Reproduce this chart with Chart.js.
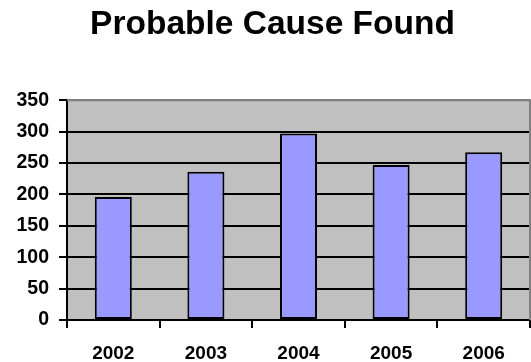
<!DOCTYPE html>
<html>
<head>
<meta charset="utf-8">
<script src="https://cdn.jsdelivr.net/npm/chart.js@4/dist/chart.umd.min.js"></script>
<style>
  html, body { margin: 0; padding: 0; background: #ffffff; }
  #wrap { width: 531px; height: 362px; position: relative; }
</style>
</head>
<body>
<div id="wrap"><canvas id="c" width="531" height="362"></canvas></div>
<script>
// Cases per year
const years = ['2002', '2003', '2004', '2005', '2006'];
const found = [196, 236, 297, 247, 267];
const yTicks = [0, 50, 100, 150, 200, 250, 300, 350];

const FONT = "'Liberation Sans', Arial, Helvetica, sans-serif";

// Grey plot background with a grey frame on top and right
const plotFrame = {
  id: 'plotFrame',
  beforeDraw(chart) {
    const { ctx, chartArea: a } = chart;
    ctx.save();
    ctx.fillStyle = '#C0C0C0';
    ctx.fillRect(a.left, a.top, a.right - a.left, a.bottom - a.top);
    ctx.restore();
  },
  afterDatasetsDraw(chart) {
    const { ctx, chartArea: a } = chart;
    ctx.save();
    ctx.strokeStyle = '#808080';
    ctx.lineWidth = 2;
    ctx.beginPath();
    ctx.moveTo(a.left, a.top);
    ctx.lineTo(a.right, a.top);
    ctx.lineTo(a.right, a.bottom);
    ctx.stroke();
    ctx.restore();
  }
};

new Chart(document.getElementById('c'), {
  type: 'bar',
  data: {
    labels: years,
    datasets: [{
      label: 'Probable Cause Found',
      data: found,
      backgroundColor: '#9999FF',
      borderColor: '#000000',
      borderWidth: 2,
      borderSkipped: false,
      categoryPercentage: 1.0,
      barPercentage: 0.4
    }]
  },
  options: {
    responsive: false,
    animation: false,
    devicePixelRatio: 1,
    layout: { padding: { left: 15, right: 1, top: 0, bottom: 0 } },
    plugins: {
      legend: { display: false },
      tooltip: { enabled: false },
      title: {
        display: true,
        text: 'Probable Cause Found',
        color: '#000000',
        font: { family: FONT, size: 33.5, weight: 'bold', lineHeight: 1.2 },
        padding: { top: 5, bottom: 55 }
      }
    },
    scales: {
      x: {
        offset: true,
        grid: {
          offset: true,
          drawOnChartArea: false,
          drawTicks: true,
          tickLength: 8,
          color: '#000000',
          tickColor: '#000000',
          lineWidth: 2
        },
        border: { display: true, color: '#000000', width: 2 },
        ticks: {
          color: '#000000',
          padding: 14,
          font: { family: FONT, size: 19, weight: 'bold', lineHeight: 1.2 }
        },
        afterFit(scale) { scale.height = 42; }
      },
      y: {
        min: 0,
        max: 350,
        afterBuildTicks(scale) {
          scale.ticks = yTicks.map(v => ({ value: v }));
        },
        grid: {
          drawTicks: true,
          tickLength: 8,
          color: ctx => (ctx.tick && ctx.tick.value === 350) ? '#808080' : '#000000',
          tickColor: '#000000',
          lineWidth: 2
        },
        border: { display: true, color: '#000000', width: 2 },
        ticks: {
          color: '#000000',
          padding: 10,
          font: { family: FONT, size: 19.5, weight: 'bold', lineHeight: 1.2 }
        },
        afterFit(scale) { scale.width = 52; }
      }
    }
  },
  plugins: [plotFrame]
});
</script>
</body>
</html>
